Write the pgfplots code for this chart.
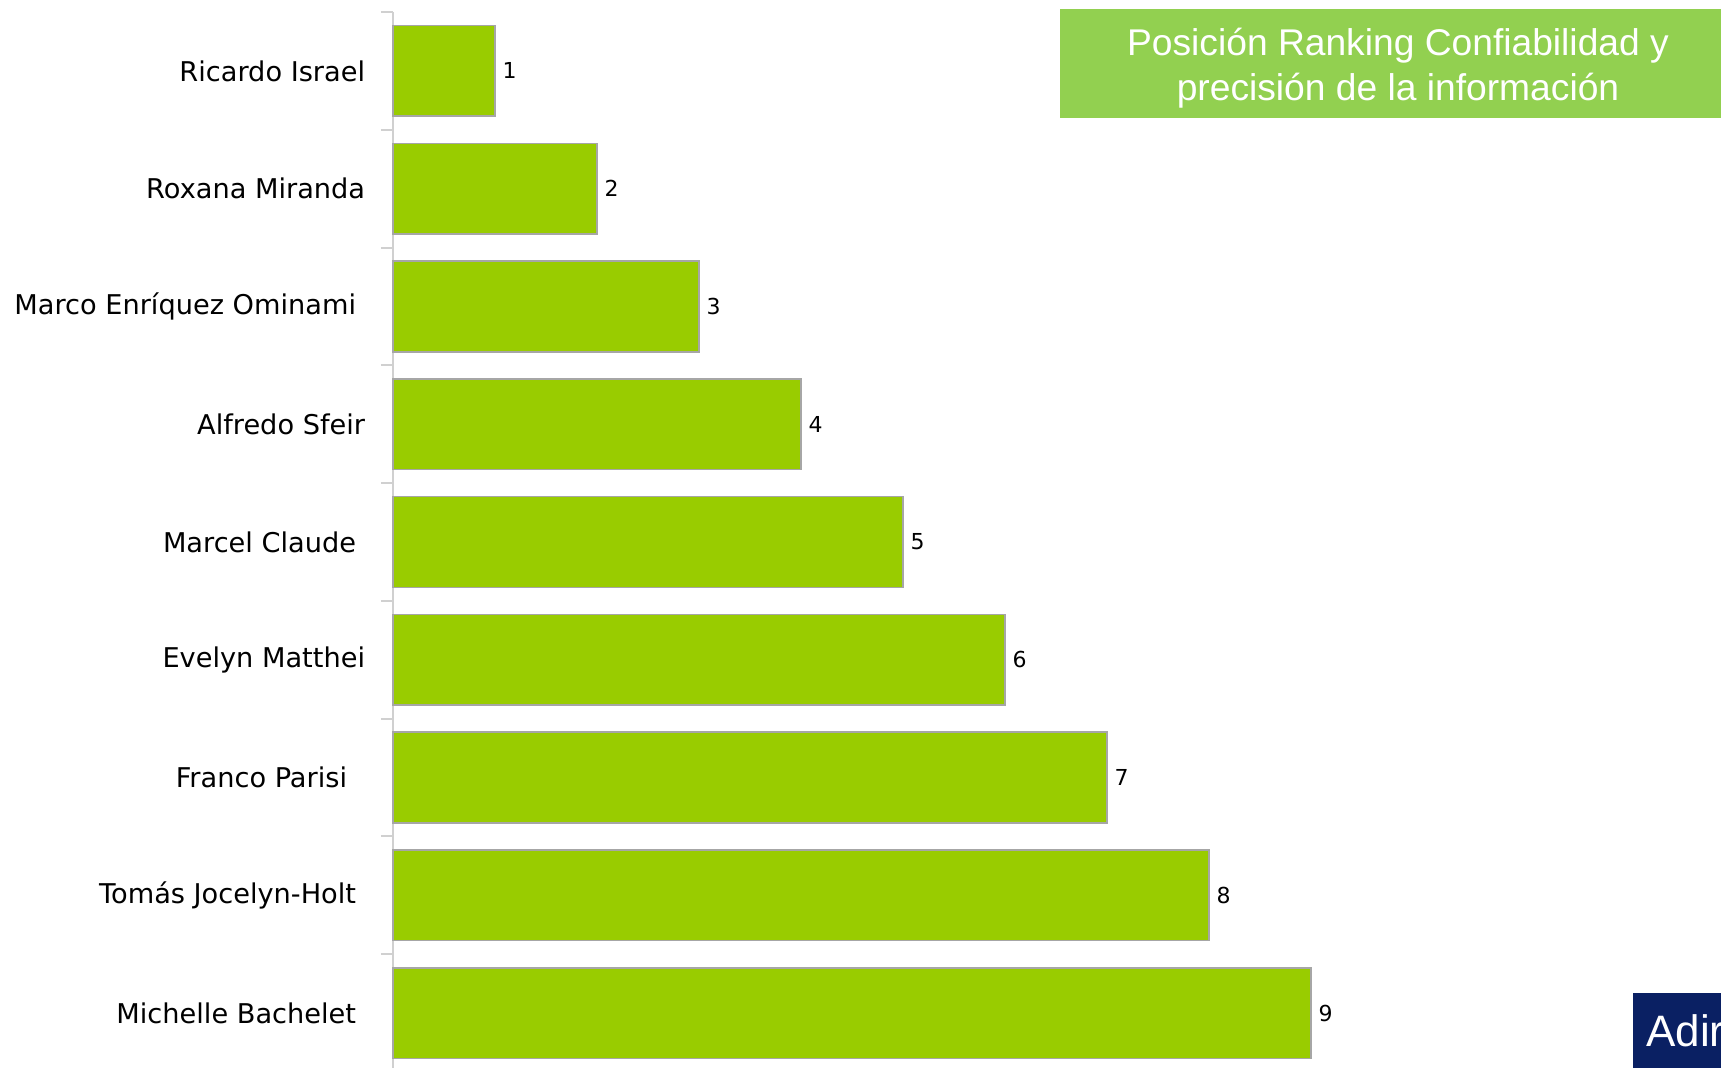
\documentclass[border=0pt]{standalone}
\usepackage{pgfplots}
\pgfplotsset{compat=1.18}
\usepackage{fontspec}
\setmainfont{DejaVu Sans}
\newfontfamily\arial{Liberation Sans}
\definecolor{barg}{HTML}{99CC00}
\definecolor{bargray}{HTML}{A6A6A6}
\definecolor{titleg}{HTML}{92D050}
\definecolor{navy}{HTML}{0A2063}
\definecolor{axgray}{HTML}{D0D0D0}
\begin{document}
\begin{tikzpicture}[x=1pt,y=1pt]
\path[use as bounding box] (0,0) rectangle (860.5,534);
\begin{axis}[
  at={(196.5pt,-2pt)}, anchor=south west,
  scale only axis, width=664pt, height=530pt,
  xmin=0, xmax=13.02, ymin=0.5, ymax=9.5,
  y dir=reverse,
  xbar, bar width=0.77,
  axis x line=none,
  axis y line=left,
  y axis line style={-, color=axgray, line width=1pt},
  ytick={1,...,9},
  yticklabels={Ricardo Israel, Roxana Miranda, {Marco Enríquez Ominami\kern4.5pt}, Alfredo Sfeir, {Marcel Claude\kern4.5pt}, Evelyn Matthei, {Franco Parisi\kern9pt}, {Tomás Jocelyn-Holt\kern4.5pt}, {Michelle Bachelet\kern4.5pt}},
  minor ytick={0.5,1.5,...,9.5},
  major tick length=0pt, minor tick length=6pt,
  tick align=outside, ytick pos=left,
  minor tick style={color=axgray, line width=1pt},
  yticklabel style={font=\fontsize{13.6}{16}\selectfont, anchor=east, inner sep=0pt, xshift=-13.75pt},
  /pgf/number format/assume math mode=true,
  clip=false,
]
\addplot[fill=barg, draw=bargray, line width=0.75pt,
  nodes near coords,
  nodes near coords style={font=\fontsize{11}{12}\selectfont, anchor=west, inner sep=0pt, xshift=3.5pt, text=black}]
  coordinates {(1,1) (2,2) (3,3) (4,4) (5,5) (6,6) (7,7) (8,8) (9,9)};
\end{axis}
\fill[titleg] (530,475) rectangle (870,529.5);
\node[align=center, text=white, font=\arial\fontsize{18.6}{22.5}\selectfont, inner sep=0pt] at (699,499.8) {Posición Ranking Confiabilidad y\\precisión de la información};
\fill[navy] (816.5,0) rectangle (870,37.5);
\node[anchor=base west, text=white, font=\arial\fontsize{22}{24}\selectfont, inner sep=0pt] at (823,10.5) {Adir};
\end{tikzpicture}
\end{document}
